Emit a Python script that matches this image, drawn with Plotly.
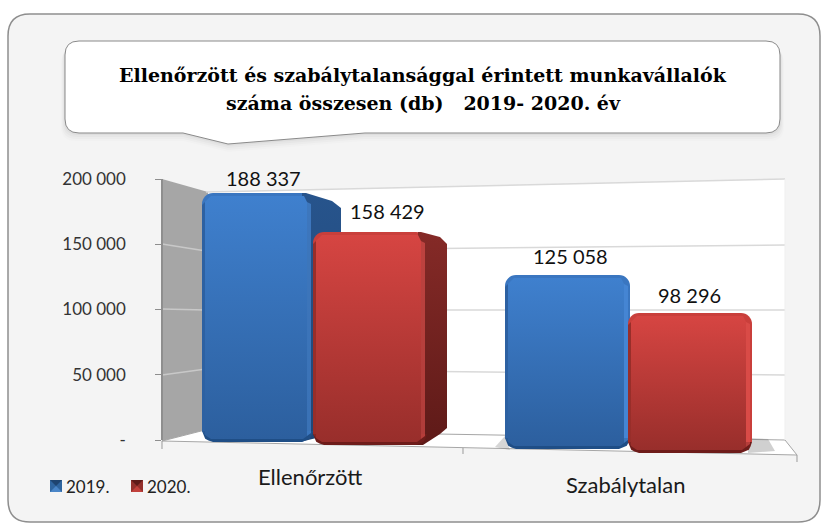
import plotly.graph_objects as go

categories = ["Ellenőrzött", "Szabálytalan"]
series_names = ["2019.", "2020."]
values_2019 = [188337, 125058]
values_2020 = [158429, 98296]
y_ticks = [0, 50000, 100000, 150000, 200000]
y_tick_labels = ["-", "50 000", "100 000", "150 000", "200 000"]
title_lines = ["Ellenőrzött és szabálytalansággal érintett munkavállalók",
               "száma összesen (db)   2019- 2020. év"]

W, H = 825, 525
fx = lambda p: p / W
fy = lambda p: 1 - p / H
X0_PX, X1_PX = 313, 629            # pixel of x=0, x=1
UX = X1_PX - X0_PX
dx = lambda p: (p - X0_PX) / UX    # pixel -> x data
SANS = "Lato, Carlito, sans-serif"


def path(points, close=True):
    s = "M" + " L".join(f"{fx(a):.5f},{fy(b):.5f}" for a, b in points)
    return s + (" Z" if close else "")


def rrect(x0, y0, x1, y1, r):
    return (f"M{fx(x0+r):.5f},{fy(y0):.5f} L{fx(x1-r):.5f},{fy(y0):.5f} "
            f"Q{fx(x1):.5f},{fy(y0):.5f} {fx(x1):.5f},{fy(y0+r):.5f} "
            f"L{fx(x1):.5f},{fy(y1-r):.5f} Q{fx(x1):.5f},{fy(y1):.5f} {fx(x1-r):.5f},{fy(y1):.5f} "
            f"L{fx(x0+r):.5f},{fy(y1):.5f} Q{fx(x0):.5f},{fy(y1):.5f} {fx(x0):.5f},{fy(y1-r):.5f} "
            f"L{fx(x0):.5f},{fy(y0+r):.5f} Q{fx(x0):.5f},{fy(y0):.5f} {fx(x0+r):.5f},{fy(y0):.5f} Z")


def callout(x0, y0, x1, y1, r, tail):
    a, b, c = tail
    return (f"M{fx(x0+r):.5f},{fy(y0):.5f} L{fx(x1-r):.5f},{fy(y0):.5f} "
            f"Q{fx(x1):.5f},{fy(y0):.5f} {fx(x1):.5f},{fy(y0+r):.5f} "
            f"L{fx(x1):.5f},{fy(y1-r):.5f} Q{fx(x1):.5f},{fy(y1):.5f} {fx(x1-r):.5f},{fy(y1):.5f} "
            f"L{fx(c[0]):.5f},{fy(c[1]):.5f} L{fx(b[0]):.5f},{fy(b[1]):.5f} L{fx(a[0]):.5f},{fy(a[1]):.5f} "
            f"L{fx(x0+r):.5f},{fy(y1):.5f} Q{fx(x0):.5f},{fy(y1):.5f} {fx(x0):.5f},{fy(y1-r):.5f} "
            f"L{fx(x0):.5f},{fy(y0+r):.5f} Q{fx(x0):.5f},{fy(y0):.5f} {fx(x0+r):.5f},{fy(y0):.5f} Z")


shapes = []
def shp(p, fill="rgba(0,0,0,0)", line=None, w=0):
    shapes.append(dict(type="path", path=p, xref="paper", yref="paper", layer="below",
                       fillcolor=fill, line=dict(color=line or "rgba(0,0,0,0)", width=w)))

GRID = "#D9D9D9"
# panel
shp(rrect(8, 14, 820, 522, 22), "#F4F4F4", "#8E8E8E", 1.5)
# callout soft shadow, callout
for off, alpha in ((8, .012), (6, .018), (4, .025), (2, .03)):
    shp(callout(65 - off / 2, 41 + off, 780 + off / 2, 133 + off, 14, ((183, 133 + off), (228, 144 + off), (365, 133 + off))),
        f"rgba(0,0,0,{alpha})")
shp(callout(65, 41, 780, 133, 14, ((183, 133), (228, 144), (365, 133))), "#FFFFFF", "#8A8A8A", 1)
# back wall, side wall and floor
shp(path([(206, 192), (785, 179), (785, 440), (206, 430)]), "#FFFFFF")
shp(path([(162, 179), (208, 192), (205, 430), (162, 441)]), "#A6A6A6")
shp(path([(162, 441), (205, 430), (785, 440), (797, 455)]), "#FFFFFF", "#A6A6A6", 1)
shp(path([(206, 192), (785, 179)], False), line=GRID, w=1.5)
for left, mid, right in (((162, 244), (206, 251), (785, 245)),
                         ((162, 309), (206, 310), (785, 310)),
                         ((162, 375), (206, 369), (785, 375))):
    shp(path([left, mid], False), line="#C8C8C8", w=1.5)
    shp(path([mid, right], False), line=GRID, w=1.5)
shp(path([(785, 179), (785, 440)], False), line="#EFEFEF", w=1)
# floor shadows
shp(path([(495, 447), (505, 436), (510, 450)]), "rgba(120,120,120,.3)")
shp(path([(748, 438), (768, 439), (775, 451), (748, 453)]), "rgba(120,120,120,.35)")
# ticks on the base
for a, b, c in ((162, 441, 449), (463, 448, 454), (797, 455, 462)):
    shp(path([(a, b), (a, c)], False), line="#9A9A9A", w=1)

# legend swatches (pyramid look)
for x0, base, tri_dark, tri_light in ((50, "#2F659F", "#1E4470", "#4A86C8"), (131, "#93302C", "#5E1A18", "#C2413C")):
    y0, s = 480, 12
    shp(path([(x0, y0), (x0 + s, y0), (x0 + s, y0 + s), (x0, y0 + s)]), base)
    shp(path([(x0, y0), (x0 + s, y0), (x0 + s / 2, y0 + s / 2)]), tri_dark)
    shp(path([(x0, y0 + s), (x0 + s, y0 + s), (x0 + s / 2, y0 + s / 2)]), tri_light)

fig = go.Figure()
fig.add_trace(go.Scatter(x=[0, 1], y=[0, 0], mode="none", hoverinfo="skip", showlegend=False,
                         xaxis="x", yaxis="y"))

STYLES = {
    "2019.": dict(rim="#3A76C0", top="#3F80CE", bottom="#2C5F9E", edge="#4C90E0", left="#2A5C9A", foot="#1F4E86", side=("#27548C", "#1F4676")),
    "2020.": dict(rim="#C93F3B", top="#D64542", bottom="#982E2B", edge="#E45450", left="#8C2A27", foot="#6E1C1A", side=("#852A27", "#5E1A18")),
}
AXES = {}
ANN = []


def add_bar(name, value, cat, left, right, top, bottom, axis, label_dx, label_dy, side=None):
    st = STYLES[name]
    foot = 11
    ppu = (bottom - foot - top) / value
    lo = -foot / ppu
    AXES[axis] = dict(range=[lo, 200000], domain=[fy(bottom), fy(bottom - (200000 - lo) * ppu)],
                      visible=False, anchor="x")
    ya = "y" + axis
    yd = lambda p: (bottom - foot - p) / ppu
    base_px = X0_PX + cat * UX
    xl, xr = cat + (left - base_px) / UX, cat + (right - base_px) / UX
    pxx = lambda p: cat + (p - base_px) / UX

    def poly(pts, **kw):
        fig.add_trace(go.Scatter(x=[pxx(a) for a, _ in pts], y=[yd(b) for _, b in pts], fill="toself",
                                 mode="lines", line=dict(width=0), hoverinfo="skip", showlegend=False,
                                 xaxis="x", yaxis=ya, **kw))

    if side:
        poly(side, fillgradient=dict(type="vertical", colorscale=[[0, st["side"][1]], [1, st["side"][0]]]))
    fig.add_trace(go.Bar(x=[cat], y=[value], width=[xr - xl], offset=[xl - cat], name=name,
                         marker=dict(color=st["rim"], cornerradius=11, line=dict(width=0)),
                         showlegend=False, hovertemplate="%{y}<extra>" + name + "</extra>",
                         xaxis="x", yaxis=ya))
    # rounded foot of the bar
    corner = [(0, foot), (1.5, 6.5), (3.2, 3.2), (6.5, 1.5), (foot, 0)]
    poly([(left + a, bottom - b) for a, b in corner] + [(right - a, bottom - b) for a, b in reversed(corner)],
         fillcolor=st["foot"])
    # soft vertical gradient on the face
    face = [(left + 3, top + 9), (left + 9, top + 3), (right - 9, top + 3), (right - 6, top + 9),
            (right - 6, bottom - 6), (right - 10, bottom - 3), (left + 9, bottom - 3), (left + 3, bottom - 7)]
    poly(face, fillgradient=dict(type="vertical", colorscale=[[0, st["bottom"]], [1, st["top"]]]))
    # darker bevel on the left, bright one on the right
    poly([(left, top + 12), (left + 3, top + 9), (left + 3, bottom - 7), (left, bottom - 11)],
         fillcolor=st["left"], opacity=.8)
    poly([(right - 6, top + 9), (right - 2, top + 11), (right - 2, bottom - 9), (right - 6, bottom - 6)],
         fillcolor=st["edge"], opacity=.6)
    text = f"{value:,}".replace(",", " ")
    ANN.append(dict(x=cat, y=value, xref="x", yref=ya, text=text, showarrow=False, xshift=label_dx,
                    yshift=label_dy, font=dict(family=SANS, size=20, color="#111")))


add_bar("2019.", values_2019[0], 0, 202, 313, 193, 442, "2", -50, 15,
        side=[(302, 193), (306, 193), (332, 201), (341, 208), (341, 432), (300, 442)])
add_bar("2020.", values_2020[0], 0, 313, 427, 232, 445, "3", 74, 21,
        side=[(418, 232), (421, 232), (440, 237), (447, 244), (447, 428), (440, 434), (423, 445), (415, 445)])
add_bar("2019.", values_2019[1], 1, 505, 630, 275, 449, "4", -59, 19)
add_bar("2020.", values_2020[1], 1, 628, 752, 313, 453, "5", 60, 18)

for cat, (xp, yp) in zip(categories, ((310, 476), (625, 484))):
    ANN.append(dict(x=dx(xp), y=fy(yp), xref="x", yref="paper", yanchor="middle", text=cat, showarrow=False,
                    font=dict(family=SANS, size=22, color="#1a1a1a")))
for name, xp in zip(series_names, (66, 147)):
    ANN.append(dict(x=fx(xp), y=fy(486), xref="paper", yref="paper", xanchor="left", yanchor="middle", text=name,
                    showarrow=False, xshift=-2, font=dict(family=SANS, size=17, color="#222")))
for line, yp in zip(title_lines, (75, 103)):
    ANN.append(dict(x=fx(423), y=fy(yp), xref="paper", yref="paper", yanchor="middle", text=line, showarrow=False,
                    font=dict(family="DejaVu Serif, serif", size=19, color="#000", weight="bold")))

fig.update_layout(
    width=W, height=H, autosize=False, margin=dict(l=0, r=0, t=0, b=0, pad=0, autoexpand=False),
    paper_bgcolor="#FFFFFF", plot_bgcolor="rgba(0,0,0,0)", barmode="overlay",
    shapes=shapes, annotations=ANN, showlegend=False,
    xaxis=dict(range=[dx(155), dx(787)], domain=[fx(155), fx(787)], visible=False, anchor="y"),
    yaxis=dict(range=[0, 200000], domain=[fy(440), fy(179)], tickvals=y_ticks, ticktext=y_tick_labels,
               anchor="free", position=fx(162), side="left", showline=True, linecolor="#8E8E8E", linewidth=1.5,
               ticks="outside", ticklen=6, tickcolor="#8E8E8E", showgrid=False, zeroline=False,
               ticklabelstandoff=26, tickfont=dict(family=SANS, size=17, color="#333")),
)
for k, v in AXES.items():
    fig.update_layout({"yaxis" + k: v})

fig.write_html("out.html", config={"displayModeBar": False}, post_script="document.body.style.margin='0';")
